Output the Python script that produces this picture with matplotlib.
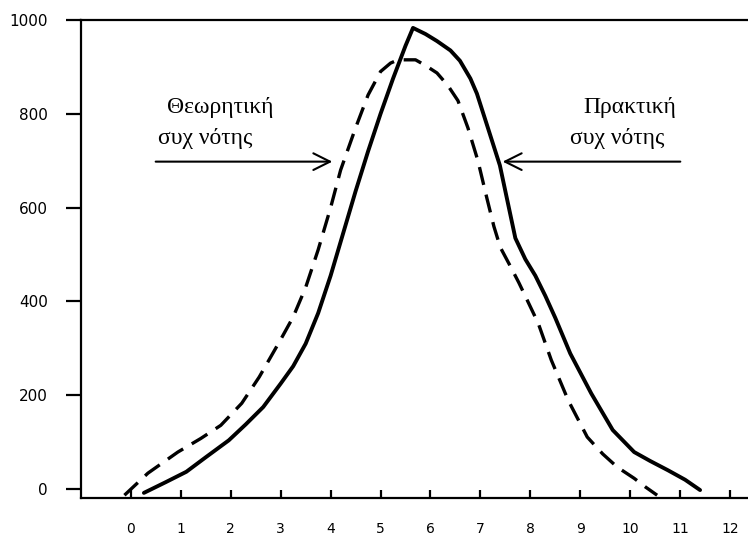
import matplotlib
matplotlib.use("Agg")
import matplotlib.pyplot as plt

# practical frequency (solid)
prakt_x = [0.26, 0.7, 1.11, 1.5, 1.96, 2.3, 2.65, 3.0, 3.25, 3.5, 3.75, 4.0,
           4.25, 4.5, 4.75, 5.0, 5.25, 5.5, 5.65, 5.9, 6.13, 6.4, 6.59, 6.8,
           6.93, 7.15, 7.39, 7.55, 7.7, 7.9, 8.1, 8.3, 8.5, 8.8, 9.22, 9.65,
           10.08, 10.4, 10.76, 11.1, 11.4]
prakt_y = [-8, 15, 37, 68, 104, 138, 175, 225, 262, 310, 375, 455,
           545, 635, 720, 800, 875, 945, 983, 970, 955, 935, 913, 875,
           843, 770, 690, 610, 535, 490, 455, 412, 365, 289, 204, 126,
           79, 60, 40, 20, -2]

# theoretical frequency (dashed)
theor_x = [-0.13, 0.34, 0.94, 1.4, 1.8, 2.22, 2.57, 2.99, 3.25, 3.5, 3.75,
           4.0, 4.2, 4.5, 4.75, 5.0, 5.2, 5.35, 5.7, 5.9, 6.13, 6.35, 6.55,
           6.75, 6.95, 7.13, 7.27, 7.4, 7.6, 7.77, 7.95, 8.16, 8.42, 8.76,
           9.14, 9.45, 9.74, 10.08, 10.3, 10.54]
theor_y = [-13, 34, 79, 108, 136, 183, 239, 317, 367, 430, 510,
           600, 680, 770, 840, 890, 908, 915, 915, 903, 887, 860, 828,
           770, 700, 620, 560, 515, 475, 440, 400, 353, 275, 189,
           111, 75, 47, 23, 5, -13]

x_ticks = list(range(0, 13))
y_ticks = [0, 200, 400, 600, 800, 1000]

fig = plt.figure(figsize=(7.48, 5.39), dpi=100)
ax = fig.add_axes([0.1083, 0.076, 0.8917, 0.887])

ax.plot(prakt_x, prakt_y, color="black", lw=2.8, solid_joinstyle="round",
        solid_capstyle="round")
ax.plot(theor_x, theor_y, color="black", lw=2.4, dashes=(5.5, 3))

ax.set_xlim(-1.0, 12.36)
ax.set_ylim(-19, 1000)

for side in ["left", "top", "bottom"]:
    ax.spines[side].set_linewidth(1.6)
ax.spines["right"].set_visible(False)

ax.set_xticks(x_ticks)
ax.set_yticks(y_ticks)
ax.tick_params(axis="x", direction="in", length=6, width=1.6, pad=17,
               labelsize=10)
ax.tick_params(axis="y", direction="out", length=11, width=1.6, pad=13,
               labelsize=11)

serif = ["Liberation Serif", "DejaVu Serif"]
ax.text(0.72, 813, "Θεωρητική", family=serif, fontsize=17, ha="left",
        va="center")
ax.text(0.54, 747, "συχ νότης", family=serif, fontsize=17, ha="left",
        va="center")
ax.text(9.06, 813, "Πρακτική", family=serif, fontsize=17, ha="left",
        va="center")
ax.text(8.8, 747, "συχ νότης", family=serif, fontsize=17, ha="left",
        va="center")

arrow = dict(arrowstyle="->", color="black", lw=1.5, mutation_scale=30)
ax.annotate("", xy=(4.09, 698), xytext=(0.44, 698), arrowprops=arrow)
ax.annotate("", xy=(7.39, 698), xytext=(11.06, 698), arrowprops=arrow)

fig.savefig("out.png", dpi=100)
